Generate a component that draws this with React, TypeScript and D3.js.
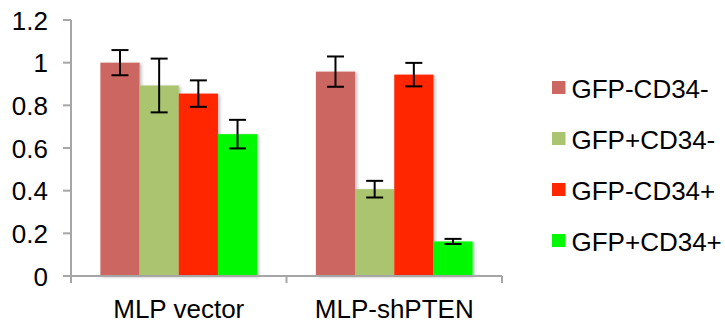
import React from "react";
import * as d3 from "d3";

const categories = ["MLP vector", "MLP-shPTEN"];
const seriesNames = ["GFP-CD34-", "GFP+CD34-", "GFP-CD34+", "GFP+CD34+"];
const seriesColors = ["#CC6660", "#ABC46F", "#FF2600", "#00F900"];
// values[series][category]
const values = [
  [1.0, 0.958],
  [0.893, 0.407],
  [0.855, 0.944],
  [0.665, 0.162],
];
const errors = [
  [0.059, 0.071],
  [0.126, 0.039],
  [0.062, 0.055],
  [0.067, 0.012],
];
const yTicks = [0, 0.2, 0.4, 0.6, 0.8, 1, 1.2];

const W = 725;
const H = 324;
const X0 = 71;
const X1 = 502;
const Y0 = 276;
const Y1 = 20;
const FONT = "Liberation Sans, Arial, Helvetica, sans-serif";
const AXIS = "#A6A6A6";
const FS = 26;

export default function App() {
  const y = d3.scaleLinear().domain([0, 1.2]).range([Y0, Y1]);
  const x = d3.scaleBand<string>().domain(categories).range([X0, X1]).padding(0);
  const xs = d3
    .scaleBand<string>()
    .domain(seriesNames)
    .range([0, x.bandwidth()])
    .paddingInner(0)
    .paddingOuter(0.75);
  const bw = xs.bandwidth();
  const cap = 8.5;

  return (
    <svg
      width={W}
      height={H}
      style={{ position: "absolute", left: 0, top: 0, background: "#fff" }}
      fontFamily={FONT}
    >
      <defs>
        <filter id="sh" x="-20%" y="-20%" width="150%" height="140%">
          <feDropShadow dx="2" dy="1" stdDeviation="1.5" floodColor="#000" floodOpacity="0.25" />
        </filter>
      </defs>
      {/* y axis */}
      <line x1={X0} x2={X0} y1={Y1} y2={Y0 + 7} stroke={AXIS} strokeWidth={2} />
      {yTicks.map((t) => (
        <g key={t}>
          <line x1={X0 - 8} x2={X0} y1={y(t)} y2={y(t)} stroke={AXIS} strokeWidth={2} />
          <text x={48} y={y(t) + 9.5} textAnchor="end" fontSize={FS} fill="#000">
            {d3.format("~g")(t)}
          </text>
        </g>
      ))}
      {/* bars */}
      {seriesNames.map((s, si) =>
        categories.map((c, ci) => {
          const v = values[si][ci];
          const bx = (x(c) as number) + (xs(s) as number);
          return (
            <rect
              key={s + c}
              x={bx}
              y={y(v)}
              width={bw}
              height={Y0 - y(v)}
              fill={seriesColors[si]}
              filter="url(#sh)"
            />
          );
        })
      )}
      {/* x axis */}
      <line x1={X0} x2={X1} y1={Y0} y2={Y0} stroke={AXIS} strokeWidth={2} />
      {[X0 + x.bandwidth(), X1].map((tx) => (
        <line key={tx} x1={tx} x2={tx} y1={Y0} y2={Y0 + 7} stroke={AXIS} strokeWidth={2} />
      ))}
      {/* error bars */}
      {seriesNames.map((s, si) =>
        categories.map((c, ci) => {
          const v = values[si][ci];
          const e = errors[si][ci];
          const cx = (x(c) as number) + (xs(s) as number) + bw / 2;
          return (
            <g key={"e" + s + c} stroke="#000" strokeWidth={2}>
              <line x1={cx} x2={cx} y1={y(v + e)} y2={y(v - e)} />
              <line x1={cx - cap} x2={cx + cap} y1={y(v + e)} y2={y(v + e)} />
              <line x1={cx - cap} x2={cx + cap} y1={y(v - e)} y2={y(v - e)} />
            </g>
          );
        })
      )}
      {/* category labels */}
      {categories.map((c) => (
        <text
          key={c}
          x={(x(c) as number) + x.bandwidth() / 2}
          y={318}
          textAnchor="middle"
          fontSize={FS}
          fill="#000"
        >
          {c}
        </text>
      ))}
      {/* legend */}
      {seriesNames.map((s, i) => (
        <g key={"l" + s} transform={`translate(552,${81 + i * 51})`}>
          <rect x={0} y={0} width={13.5} height={13} fill={seriesColors[i]} />
          <text x={19.5} y={17} fontSize={FS} fill="#000">
            {s}
          </text>
        </g>
      ))}
    </svg>
  );
}
